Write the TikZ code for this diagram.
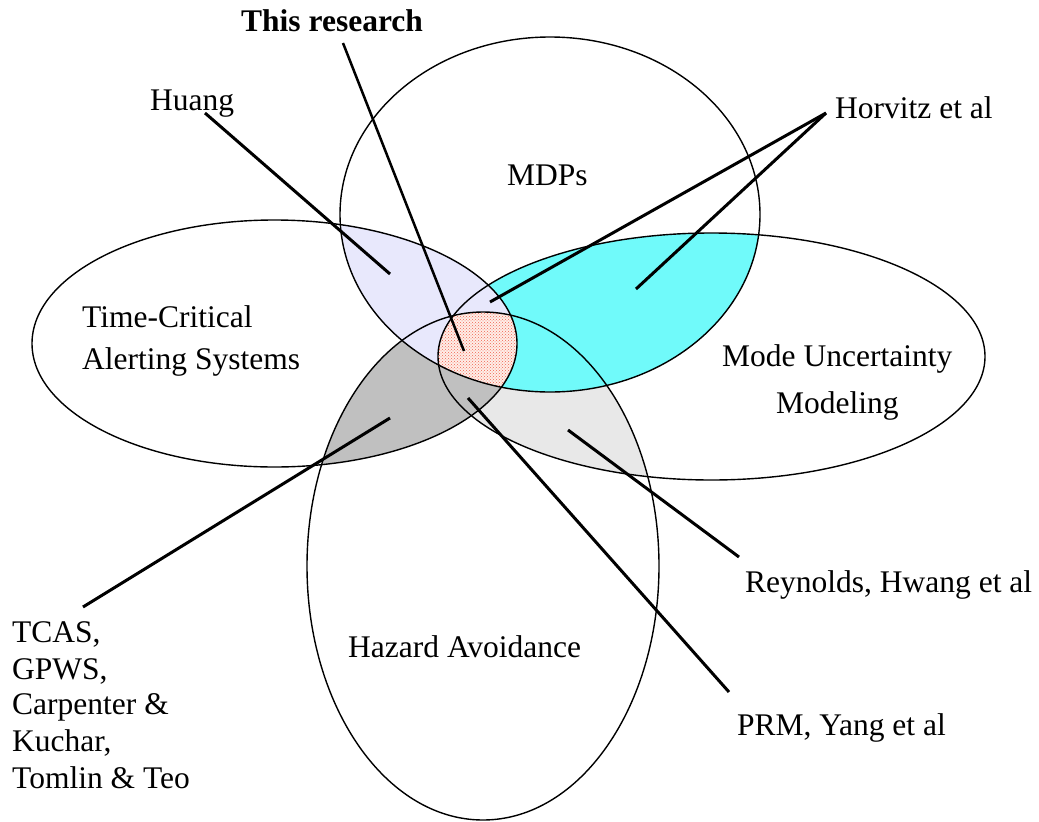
\documentclass[tikz,border=0pt]{standalone}
\usepackage{fontspec}
\setmainfont{Liberation Serif}
\usetikzlibrary{patterns}
\definecolor{lavfill}{RGB}{232,232,252}
\definecolor{cyanfill}{RGB}{112,250,250}
\definecolor{darkfill}{RGB}{192,192,192}
\definecolor{lightfill}{RGB}{232,232,232}
\definecolor{coreback}{RGB}{255,238,232}
\definecolor{coredots}{RGB}{240,100,80}
\begin{document}
\begin{tikzpicture}[x=1pt,y=-1pt,
  setline/.style={line width=1.4pt},
  pointer/.style={line width=3pt},
  label/.style={inner sep=0pt,anchor=base west,font=\fontsize{31.5}{37}\selectfont}]
\useasboundingbox (0,0) rectangle (1039,822);
% the four sets
\def\mdpset{(550,214.5) ellipse [x radius=210pt, y radius=177.5pt]}
\def\tcaset{(274.5,343.5) ellipse [x radius=242.5pt, y radius=123.5pt]}
\def\modeset{(711.5,356.5) ellipse [x radius=273.5pt, y radius=123.5pt]}
\def\hazset{(483,566) ellipse [x radius=176pt, y radius=254pt]}
% pairwise overlaps
\begin{scope}\clip \modeset; \fill[lightfill] \hazset; \end{scope}
\begin{scope}\clip \tcaset; \fill[darkfill] \hazset; \end{scope}
\begin{scope}\clip \mdpset; \fill[cyanfill] \modeset; \end{scope}
\begin{scope}\clip \mdpset; \fill[lavfill] \tcaset; \end{scope}
% overlap of all four
\begin{scope}
  \clip \mdpset; \clip \tcaset; \clip \modeset;
  \fill[coreback] \hazset;
  \fill[pattern=crosshatch dots, pattern color=coredots] \hazset;
\end{scope}
% outlines
\draw[setline] \mdpset;
\draw[setline] \tcaset;
\draw[setline] \modeset;
\draw[setline] \hazset;
% set names
\node[label] (mdps) at (507,185) {MDPs};
\node[label] (tca1) at (82,327) {Time-Critical};
\node[label] (tca2) at (82,369) {Alerting Systems};
\node[label] (mum1) at (722,366) {Mode Uncertainty};
\node[label] (mum2) at (776,413) {Modeling};
\node[label] (haz) at (348,657) {Hazard Avoidance};
% works
\node[label,font=\fontsize{31.5}{37}\selectfont\bfseries] (res) at (241,31.5) {This research};
\node[label] (huang) at (150,110) {Huang};
\node[label] (horvitz) at (835,118) {Horvitz et al};
\node[label] (reyn) at (745,592) {Reynolds, Hwang et al};
\node[label] (prm) at (737,735) {PRM, Yang et al};
\node[label] (tc1) at (12,642) {TCAS,};
\node[label] (tc2) at (12,679) {GPWS,};
\node[label] (tc3) at (12,714) {Carpenter \&};
\node[label] (tc4) at (12,751) {Kuchar,};
\node[label] (tc5) at (12,788) {Tomlin \& Teo};
% pointer ends
\coordinate (resA) at (343,43);   \coordinate (resB) at (464,351);
\coordinate (huA) at (205,113);   \coordinate (huB) at (390,274);
\coordinate (hoA) at (826,113);   \coordinate (hoB) at (490,302);
\coordinate (hoC) at (636,289);
\coordinate (tcA) at (83,607);    \coordinate (tcB) at (390,418);
\coordinate (prA) at (729,692);   \coordinate (prB) at (468,398);
\coordinate (reA) at (739,557);   \coordinate (reB) at (568,430);
% pointers
\draw[pointer,line width=2.5pt] (resA) -- (resB);
\draw[pointer] (huA) -- (huB);
\draw[pointer] (hoA) -- (hoB);
\draw[pointer] (hoA) -- (hoC);
\draw[pointer] (tcA) -- (tcB);
\draw[pointer] (prA) -- (prB);
\draw[pointer] (reA) -- (reB);
\end{tikzpicture}
\end{document}
